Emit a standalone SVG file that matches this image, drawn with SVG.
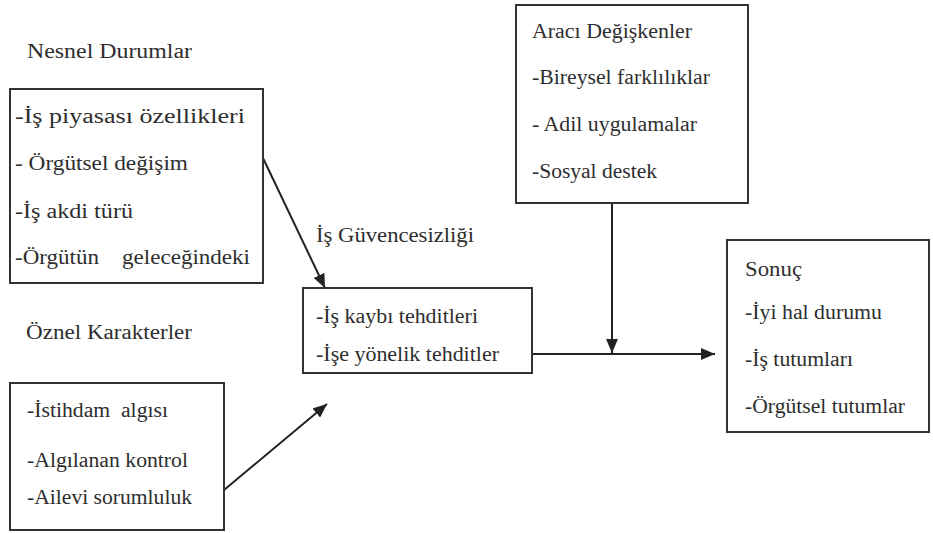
<svg xmlns="http://www.w3.org/2000/svg" width="933" height="533" viewBox="0 0 933 533">
<style>
.box{fill:#fff;stroke:#333;stroke-width:2}
.c{stroke:#222;stroke-width:2;fill:none}
</style>
<defs>
<marker id="ah" viewBox="0 0 14 12" refX="14" refY="6" markerWidth="14" markerHeight="12" markerUnits="userSpaceOnUse" orient="auto">
<path d="M0,0 L14,6 L0,12 z" fill="#222"/>
</marker>
</defs>
<rect width="933" height="533" fill="#fff"/>
<g id="connectors">
<line class="c" x1="263" y1="158" x2="325" y2="288" marker-end="url(#ah)"/>
<line class="c" x1="224" y1="490" x2="327" y2="404" marker-end="url(#ah)"/>
<line class="c" x1="517" y1="354" x2="715" y2="354" marker-end="url(#ah)"/>
<line class="c" x1="612" y1="203" x2="612" y2="353" marker-end="url(#ah)"/>
</g>
<g font-family="Liberation Serif, Times New Roman, serif" font-size="20" fill="#2e2e2e">
<g id="nesnel">
<text x="27" y="58" textLength="165" lengthAdjust="spacingAndGlyphs">Nesnel Durumlar</text>
<rect class="box" x="10" y="89" width="253" height="194"/>
<text x="15" y="123" textLength="230" lengthAdjust="spacingAndGlyphs">-İş piyasası özellikleri</text>
<text x="15" y="170" textLength="173" lengthAdjust="spacingAndGlyphs">- Örgütsel değişim</text>
<text x="15" y="218" textLength="118" lengthAdjust="spacingAndGlyphs">-İş akdi türü</text>
<text x="15" y="264" textLength="235" lengthAdjust="spacingAndGlyphs" xml:space="preserve">-Örgütün    geleceğindeki</text>
</g>
<g id="oznel">
<text x="26" y="339" textLength="166" lengthAdjust="spacingAndGlyphs">Öznel Karakterler</text>
<rect class="box" x="10" y="383" width="214" height="147"/>
<text x="27" y="417" textLength="141" lengthAdjust="spacingAndGlyphs" xml:space="preserve">-İstihdam  algısı</text>
<text x="27" y="467" textLength="161" lengthAdjust="spacingAndGlyphs">-Algılanan kontrol</text>
<text x="27" y="504" textLength="165" lengthAdjust="spacingAndGlyphs">-Ailevi sorumluluk</text>
</g>
<g id="guvencesizlik">
<text x="316" y="242" textLength="158" lengthAdjust="spacingAndGlyphs">İş Güvencesizliği</text>
<rect class="box" x="303" y="288" width="229" height="85"/>
<text x="316" y="323" textLength="162" lengthAdjust="spacingAndGlyphs">-İş kaybı tehditleri</text>
<text x="316" y="361" textLength="183" lengthAdjust="spacingAndGlyphs">-İşe yönelik tehditler</text>
</g>
<g id="araci">
<rect class="box" x="516" y="5" width="232" height="198"/>
<text x="532" y="38" textLength="160" lengthAdjust="spacingAndGlyphs">Aracı Değişkenler</text>
<text x="532" y="84" textLength="178" lengthAdjust="spacingAndGlyphs">-Bireysel farklılıklar</text>
<text x="532" y="131" textLength="165" lengthAdjust="spacingAndGlyphs">- Adil uygulamalar</text>
<text x="532" y="178" textLength="125" lengthAdjust="spacingAndGlyphs">-Sosyal destek</text>
</g>
<g id="sonuc">
<rect class="box" x="727" y="240" width="202" height="192"/>
<text x="745" y="276" textLength="57" lengthAdjust="spacingAndGlyphs">Sonuç</text>
<text x="745" y="319" textLength="137" lengthAdjust="spacingAndGlyphs">-İyi hal durumu</text>
<text x="745" y="366" textLength="108" lengthAdjust="spacingAndGlyphs">-İş tutumları</text>
<text x="745" y="413" textLength="160" lengthAdjust="spacingAndGlyphs">-Örgütsel tutumlar</text>
</g>
</g>
</svg>
